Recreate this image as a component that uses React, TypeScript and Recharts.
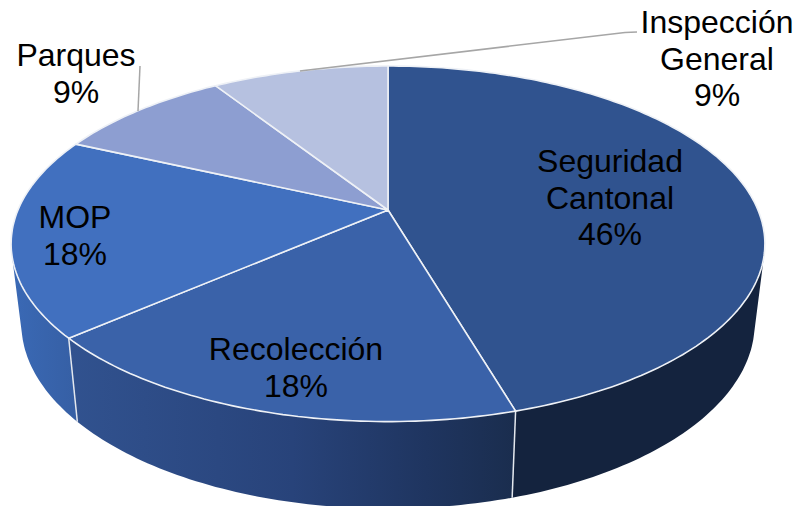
import { Pie, PieChart } from "recharts";

const categories = ["Seguridad Cantonal", "Recolección", "MOP", "Parques", "Inspección General"];
const shares = [45.45, 18.18, 18.18, 9.1, 9.09];
const shareLabels = ["46%", "18%", "18%", "9%", "9%"];
const faceColors = ["#30538f", "#3a62a9", "#4170bf", "#8d9ed1", "#b6c1e0"];
const wallColors = ["#14233e", "url(#wall1)", "url(#wall2)", "#3a68b4", "#3a68b4"];

// where Excel had the labels: centre x, first baseline
const labelSpots = [
  [610, 172],
  [296, 360],
  [75, 228],
  [76, 66],
  [717, 33],
];
const leaders = [null, null, null, "M140 66 L138 111", "M637 32 L625 32.5 L300 71"];

const data = categories.map((name, i) => ({
  name,
  value: shares[i],
  fill: faceColors[i],
  wall: wallColors[i],
}));

// the tilted disc: a circle through a perspective projection
const TILT = 0.19;
const TOP_RY = 0.4632;
const BOTTOM_RX = 0.973;
const BOTTOM_RY = 0.483;
const DEPTH = 78;
// the side is only visible between these two angles
const FRONT_RIGHT = -15;
const FRONT_LEFT = -165;

const rimPoint = (cx: number, cy: number, rx: number, ry: number, deg: number) => {
  const a = (deg * Math.PI) / 180;
  const u = Math.cos(a);
  const v = -Math.sin(a);
  const w = 1 - TILT * v;
  return [cx + (rx * u) / w, cy + (ry * v) / w];
};

const rimPath = (cx: number, cy: number, rx: number, ry: number, from: number, to: number) => {
  const steps = Math.max(2, Math.ceil(Math.abs(to - from)));
  const pts: string[] = [];
  for (let i = 0; i <= steps; i++) {
    const [x, y] = rimPoint(cx, cy, rx, ry, from + ((to - from) * i) / steps);
    pts.push(`${x.toFixed(1)} ${y.toFixed(1)}`);
  }
  return pts.join(" L");
};

const Face = (props: any) => {
  const { cx, cy, outerRadius: r, startAngle, endAngle, fill } = props;
  const d = `M${cx} ${cy} L${rimPath(cx, cy, r, r * TOP_RY, startAngle, endAngle)} Z`;
  return <path d={d} fill={fill} stroke="#eef1f6" strokeWidth={1.6} strokeLinejoin="round" />;
};

const Wall = (props: any) => {
  const { cx, cy, outerRadius: r, startAngle, endAngle, wall } = props;
  const from = Math.min(startAngle, FRONT_RIGHT);
  const to = Math.max(endAngle, FRONT_LEFT);
  if (from <= to) return <g />;
  const top = rimPath(cx, cy, r, r * TOP_RY, from, to);
  const bottom = rimPath(cx, cy + DEPTH, r * BOTTOM_RX, r * BOTTOM_RY, to, from);
  return <path d={`M${top} L${bottom} Z`} fill={wall} />;
};

// only the two front seams show as white lines on the side
const Seam = (props: any) => {
  const { cx, cy, outerRadius: r, startAngle, index } = props;
  if (index !== 1 && index !== 2) return <g />;
  const [x1, y1] = rimPoint(cx, cy, r, r * TOP_RY, startAngle);
  const [x2, y2] = rimPoint(cx, cy + DEPTH, r * BOTTOM_RX, r * BOTTOM_RY, startAngle);
  return <line x1={x1} y1={y1} x2={x2} y2={y2} stroke="#e4e8ee" strokeWidth={1.5} />;
};

const renderLabel = (props: any) => {
  const i = props.index;
  const [x, y] = labelSpots[i];
  const lines = [...categories[i].split(" "), shareLabels[i]];
  return (
    <g>
      {leaders[i] && <path d={leaders[i]!} fill="none" stroke="#a6a6a6" strokeWidth={1.5} />}
      <text x={x} y={y} textAnchor="middle" fontFamily="Liberation Sans" fontSize={32} fill="#000">
        {lines.map((t, k) => (
          <tspan key={k} x={x} y={y + k * 36.5}>
            {t}
          </tspan>
        ))}
      </text>
    </g>
  );
};

export default function App() {
  const common = {
    data,
    dataKey: "value",
    nameKey: "name",
    cx: 388,
    cy: 210,
    outerRadius: 370,
    startAngle: 90,
    endAngle: -270,
    stroke: "none",
    isAnimationActive: false,
  };
  return (
    <div style={{ position: "absolute", left: 0, top: 0, width: 798, height: 506 }}>
      <PieChart width={798} height={506} margin={{ top: 0, right: 0, bottom: 0, left: 0 }}>
        <defs>
          <linearGradient id="wall1" gradientUnits="userSpaceOnUse" x1="70" y1="0" x2="515" y2="0">
            <stop offset="0" stopColor="#31528f" />
            <stop offset="0.5" stopColor="#28437a" />
            <stop offset="0.8" stopColor="#1f3560" />
            <stop offset="1" stopColor="#1a2d4e" />
          </linearGradient>
          <linearGradient id="wall2" gradientUnits="userSpaceOnUse" x1="13" y1="0" x2="78" y2="0">
            <stop offset="0" stopColor="#3a69b5" />
            <stop offset="1" stopColor="#365fa4" />
          </linearGradient>
        </defs>
        <Pie {...common} shape={Wall} inactiveShape={Wall} activeShape={Wall} />
        <Pie {...common} shape={Seam} inactiveShape={Seam} activeShape={Seam} />
        <Pie {...common} shape={Face} inactiveShape={Face} activeShape={Face} labelLine={false} label={renderLabel} />
      </PieChart>
    </div>
  );
}
